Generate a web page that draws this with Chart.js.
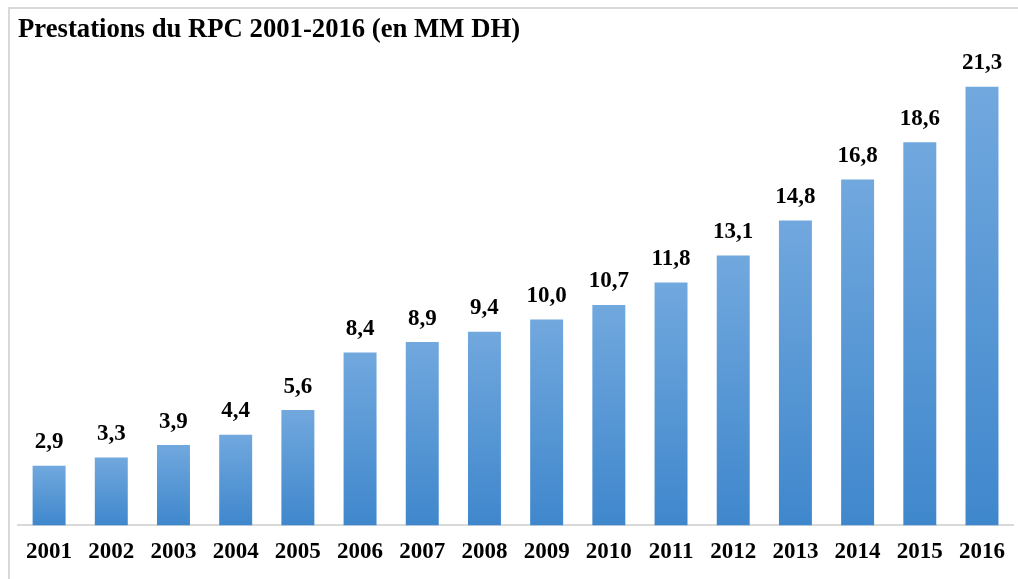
<!DOCTYPE html>
<html>
<head>
<meta charset="utf-8">
<script src="https://cdn.jsdelivr.net/npm/chart.js@4/dist/chart.umd.min.js"></script>
<style>
    body { margin: 0; background: #fff; }
    #cadre { position: absolute; left: 8px; top: 7px; width: 1020px; height: 580px; border: 2px solid #d9d9d9; }
    #zone { position: absolute; left: 0; top: 0; width: 1018px; height: 579px; }
</style>
</head>
<body>
<div id="cadre"></div>
<div id="zone"><canvas id="myChart" width="1018" height="579"></canvas></div>
<script>
// DONNEES

const annees = ['2001', '2002', '2003', '2004', '2005', '2006', '2007', '2008',
    '2009', '2010', '2011', '2012', '2013', '2014', '2015', '2016'];
const prestations = [2.9, 3.3, 3.9, 4.4, 5.6, 8.4, 8.9, 9.4, 10.0, 10.7, 11.8, 13.1, 14.8, 16.8, 18.6, 21.3];
const titre = 'Prestations du RPC 2001-2016 (en MM DH)';

const police = "'Liberation Serif', 'Times New Roman', serif";

// degrade de chaque barre, du haut (clair) vers le bas (fonce)
function degradeBarre(context) {
    const chart = context.chart;
    const y = chart.scales.y;
    if (!y || context.raw === undefined) return '#5b9bd5';
    const haut = y.getPixelForValue(context.raw);
    const bas = y.getPixelForValue(0);
    if (!isFinite(haut) || !isFinite(bas) || haut === bas) return '#5b9bd5';
    const g = chart.ctx.createLinearGradient(0, haut, 0, bas);
    g.addColorStop(0, '#71a8de');
    g.addColorStop(1, '#3f87cc');
    return g;
}

// valeurs au-dessus des barres
const etiquettes = {
    id: 'etiquettes',
    afterDatasetsDraw(chart) {
        const { ctx } = chart;
        const meta = chart.getDatasetMeta(0);
        ctx.save();
        ctx.font = 'bold 23px ' + police;
        ctx.fillStyle = '#000';
        ctx.textAlign = 'center';
        ctx.textBaseline = 'bottom';
        meta.data.forEach((barre, i) => {
            const texte = prestations[i].toFixed(1).replace('.', ',');
            ctx.fillText(texte, barre.x, barre.y - 12);
        });
        ctx.restore();
    }
};

const ctx = document.getElementById('myChart').getContext('2d');
const myChart = new Chart(ctx, {
    type: 'bar',
    data: {
        labels: annees,
        datasets: [{
            data: prestations,
            backgroundColor: degradeBarre,
            borderWidth: 0,
            barPercentage: 0.53,
            categoryPercentage: 1
        }]
    },
    options: {
        responsive: false,
        animation: false,
        layout: { padding: { left: 18, right: 0, top: 0, bottom: 0 } },
        plugins: {
            legend: { display: false },
            tooltip: { enabled: false },
            title: {
                display: true,
                text: titre,
                align: 'start',
                color: '#000',
                font: { family: police, size: 26.7, weight: 'bold' },
                padding: { top: 14, bottom: 16 }
            }
        },
        scales: {
            x: {
                grid: { display: false, drawTicks: false },
                border: { display: true, color: '#d9d9d9', width: 2 },
                ticks: {
                    color: '#000',
                    padding: 13,
                    font: { family: police, size: 23, weight: 'bold' }
                }
            },
            y: {
                display: false,
                min: 0,
                max: 22.5
            }
        }
    },
    plugins: [etiquettes]
});
</script>
</body>
</html>
